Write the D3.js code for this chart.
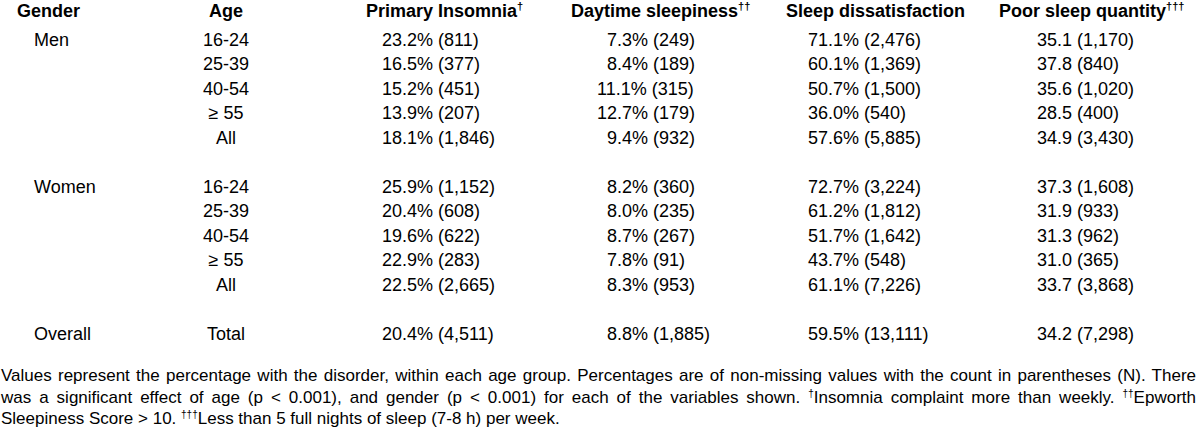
<!DOCTYPE html>
<html>
<head>
<meta charset="utf-8">
<script src="https://cdn.jsdelivr.net/npm/d3@7"></script>
<style>
  html, body { margin: 0; padding: 0; background: #fff; }
  svg { display: block; }
  text { font-family: "Liberation Sans", Arial, sans-serif; fill: #000; }
</style>
</head>
<body>
<svg id="chart" width="1200" height="435"></svg>
<script>
// ---- data ----
const headers = ["Gender", "Age", "Primary Insomnia", "Daytime sleepiness", "Sleep dissatisfaction", "Poor sleep quantity"];
const headerMarks = ["", "", "†", "††", "", "†††"];
const genders = ["Men", "Women", "Overall"];
const ageGroups = ["16-24", "25-39", "40-54", "≥ 55", "All"];
const totalLabel = "Total";
const insomniaPct = [23.2, 16.5, 15.2, 13.9, 18.1, 25.9, 20.4, 19.6, 22.9, 22.5, 20.4];
const insomniaN = [811, 377, 451, 207, 1846, 1152, 608, 622, 283, 2665, 4511];
const sleepinessPct = [7.3, 8.4, 11.1, 12.7, 9.4, 8.2, 8.0, 8.7, 7.8, 8.3, 8.8];
const sleepinessN = [249, 189, 315, 179, 932, 360, 235, 267, 91, 953, 1885];
const dissatPct = [71.1, 60.1, 50.7, 36.0, 57.6, 72.7, 61.2, 51.7, 43.7, 61.1, 59.5];
const dissatN = [2476, 1369, 1500, 540, 5885, 3224, 1812, 1642, 548, 7226, 13111];
const quantityVal = [35.1, 37.8, 35.6, 28.5, 34.9, 37.3, 31.9, 31.3, 31.0, 33.7, 34.2];
const quantityN = [1170, 840, 1020, 400, 3430, 1608, 933, 962, 365, 3868, 7298];
const footnoteLines = [
  [["Values represent the percentage with the disorder, within each age group. Percentages are of non-missing values with the count in parentheses (N). There"]],
  [["was a significant effect of age (p < 0.001), and gender (p < 0.001) for each of the variables shown. "], ["†", true], ["Insomnia complaint more than weekly. "], ["††", true], ["Epworth"]],
  [["Sleepiness Score > 10. "], ["†††", true], ["Less than 5 full nights of sleep (7-8 h) per week."]]
];

// ---- layout ----
const FS = 18, FN = 17;
const svg = d3.select("#chart");
const rowSlots = [0, 1, 2, 3, 4, 6, 7, 8, 9, 10, 12];
const y = d3.scaleLinear().domain([0, 12]).range([39, 333]);
const headerY = 10;
const base = v => v + 6.5;

const headerX = d3.scaleOrdinal().domain(headers).range([17, 226, 366, 571, 786, 999]);
const headerAnchor = ["start", "middle", "start", "start", "start", "start"];
const genderX = 34, ageX = 226;
const valueX = d3.scaleOrdinal().domain(["ins", "day", "dis", "qty"]).range([382, 597, 808, 1037]);

const fmtN = d3.format(",");
const pct = v => v.toFixed(1) + "%";

// headers
headers.forEach((h, i) => {
  const t = svg.append("text")
    .attr("x", headerX(h)).attr("y", base(headerY))
    .attr("text-anchor", headerAnchor[i])
    .attr("font-size", FS).attr("font-weight", "bold");
  t.append("tspan").text(h);
  if (headerMarks[i]) {
    t.append("tspan").attr("font-size", 11).attr("dy", -7).text(headerMarks[i]);
  }
});

// digit width for decimal alignment
const probe = svg.append("text").attr("font-size", FS).text("0");
const digitW = probe.node().getComputedTextLength();
probe.remove();

// rows
const rows = rowSlots.map((slot, i) => {
  const g = Math.floor(i / 5);
  const isOverall = i === 10;
  return {
    slot,
    gender: isOverall ? genders[2] : (i % 5 === 0 ? genders[g] : ""),
    age: isOverall ? totalLabel : ageGroups[i % 5],
    ins: pct(insomniaPct[i]) + " (" + fmtN(insomniaN[i]) + ")",
    day: pct(sleepinessPct[i]) + " (" + fmtN(sleepinessN[i]) + ")",
    dayShift: sleepinessPct[i] < 10 ? digitW : 0,
    dis: pct(dissatPct[i]) + " (" + fmtN(dissatN[i]) + ")",
    qty: quantityVal[i].toFixed(1) + " (" + fmtN(quantityN[i]) + ")"
  };
});

const rowG = svg.selectAll("g.row").data(rows).join("g").attr("class", "row")
  .attr("transform", d => `translate(0,${base(y(d.slot))})`)
  .attr("font-size", FS);
rowG.append("text").attr("x", genderX).text(d => d.gender);
rowG.append("text").attr("x", ageX).attr("text-anchor", "middle").text(d => d.age);
rowG.append("text").attr("x", valueX("ins")).text(d => d.ins);
rowG.append("text").attr("x", d => valueX("day") + d.dayShift).text(d => d.day);
rowG.append("text").attr("x", valueX("dis")).text(d => d.dis);
rowG.append("text").attr("x", valueX("qty")).text(d => d.qty);

// footnote (justified lines 1-2)
const footY = [375, 396.5, 418];
const left = 1, right = 1196;
footnoteLines.forEach((segs, li) => {
  const t = svg.append("text").attr("x", left).attr("y", footY[li] + 6)
    .attr("font-size", FN).attr("xml:space", "preserve");
  segs.forEach(([s, sup]) => {
    const ts = t.append("tspan").text(s);
    if (sup) ts.attr("font-size", 10).attr("baseline-shift", "6");
  });
  if (li < 2) {
    const full = segs.map(s => s[0]).join("");
    const nSpaces = (full.match(/ /g) || []).length;
    const w = t.node().getComputedTextLength();
    t.style("word-spacing", ((right - left - w) / nSpaces) + "px");
  }
});
</script>
</body>
</html>
